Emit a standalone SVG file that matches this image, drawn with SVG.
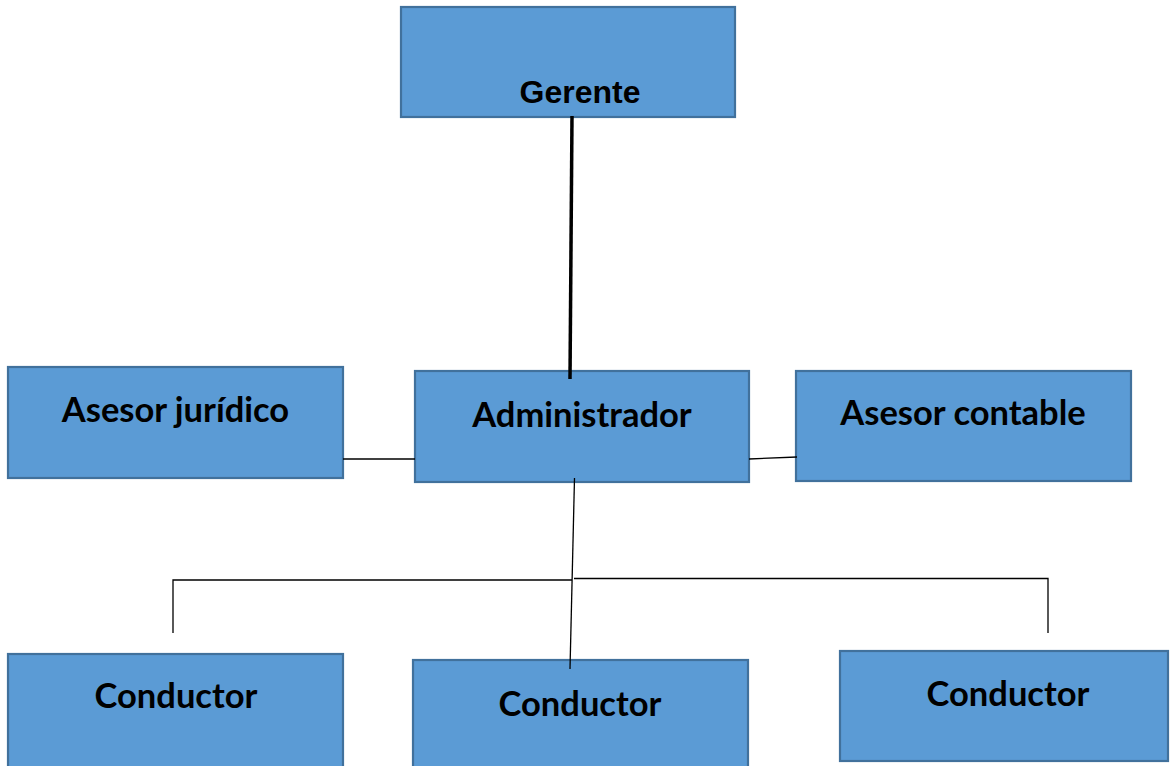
<svg xmlns="http://www.w3.org/2000/svg" width="1170" height="766" viewBox="0 0 1170 766">
<style>
.box{fill:#5B9BD5;stroke:#41719C;stroke-width:2.2}
.t{font-family:Lato,"Open Sans",sans-serif;font-weight:bold;font-size:34.5px;fill:#000;text-anchor:middle}
.ta{font-family:"Liberation Sans",Arial,sans-serif;font-weight:bold;font-size:32px;fill:#000;text-anchor:middle}
.ln{stroke:#000;stroke-width:1.3;fill:none}
</style>
<rect width="1170" height="766" fill="#fff"/>
<g id="gerente"><rect class="box" x="401" y="7" width="334" height="110"/><text class="ta" x="580" y="103">Gerente</text></g>
<g id="asesor-juridico"><rect class="box" x="8" y="367" width="335" height="111"/><text class="t" x="175.5" y="422">Asesor jurídico</text></g>
<g id="administrador"><rect class="box" x="415" y="371" width="334" height="111"/><text class="t" x="582" y="427">Administrador</text></g>
<g id="asesor-contable"><rect class="box" x="796" y="371" width="335" height="110"/><text class="t" x="963" y="425">Asesor contable</text></g>
<g id="conductor-1"><rect class="box" x="8" y="654" width="335" height="116"/><text class="t" x="176" y="708">Conductor</text></g>
<g id="conductor-2"><rect class="box" x="413" y="660" width="335" height="110"/><text class="t" x="580" y="716">Conductor</text></g>
<g id="conductor-3"><rect class="box" x="840" y="651" width="328" height="110"/><text class="t" x="1008" y="706">Conductor</text></g>
<g id="connectors">
<line x1="572" y1="116" x2="570" y2="379" stroke="#000" stroke-width="3.5"/>
<line class="ln" x1="343" y1="459" x2="415" y2="459"/>
<line class="ln" x1="749" y1="459" x2="797" y2="457"/>
<line class="ln" x1="574.5" y1="478" x2="570" y2="669"/>
<polyline class="ln" points="173,633 173,580 572,580"/>
<polyline class="ln" points="574,578.5 1048,578.5 1048,633"/>
</g>
</svg>
